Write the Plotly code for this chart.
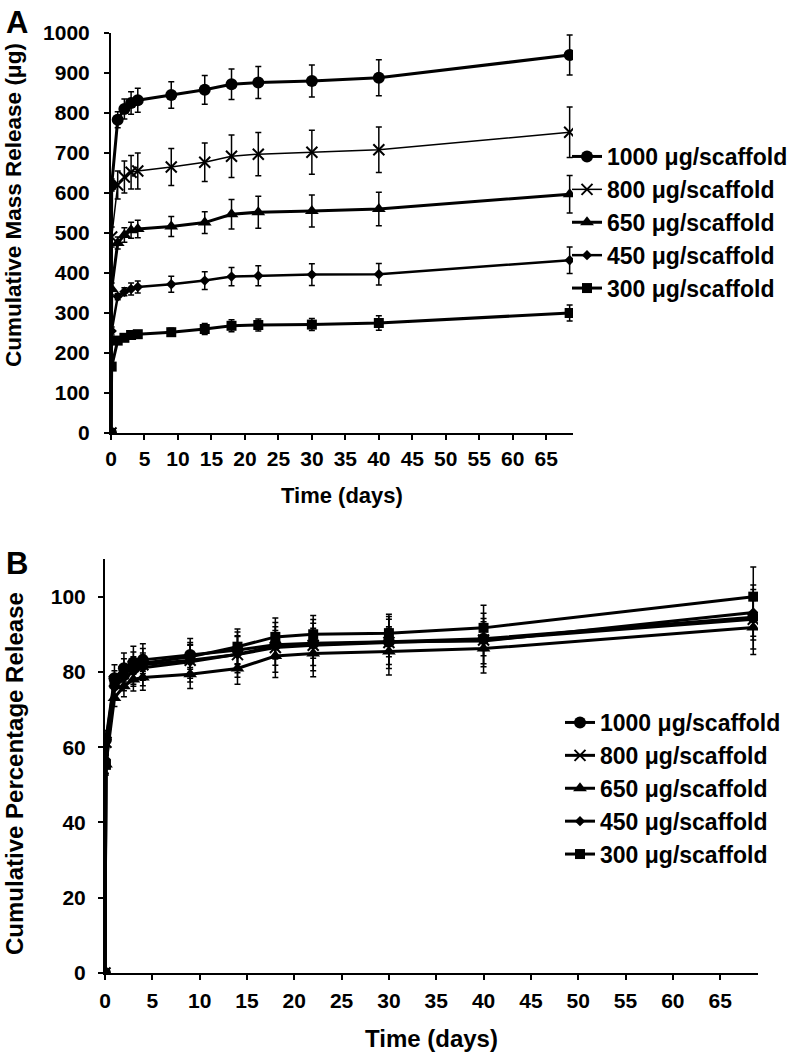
import plotly.graph_objects as go

# ---------------- data ----------------
days = [0, 0.1, 1, 2, 3, 4, 9, 14, 18, 22, 30, 40, 68.5]
series_names = ["1000 μg/scaffold", "800 μg/scaffold", "650 μg/scaffold",
                "450 μg/scaffold", "300 μg/scaffold"]

# Panel A: cumulative mass release (μg)
mass_1000 = [0, 620, 783, 810, 825, 832, 845, 858, 872, 876, 880, 888, 945]
mass_800 = [0, 490, 620, 640, 652, 655, 665, 677, 692, 697, 702, 708, 752]
mass_650 = [0, 360, 475, 495, 507, 510, 516, 526, 547, 552, 555, 560, 597]
mass_450 = [0, 255, 341, 353, 360, 365, 372, 381, 391, 393, 396, 397, 432]
mass_300 = [0, 166, 231, 238, 245, 247, 252, 260, 268, 270, 271, 275, 300]

err_mass_1000 = [0, 15, 20, 25, 28, 30, 33, 36, 38, 40, 40, 45, 50]
err_mass_800 = [0, 25, 35, 40, 42, 45, 46, 48, 53, 54, 55, 57, 63]
err_mass_650 = [0, 15, 15, 18, 20, 22, 25, 27, 37, 40, 40, 42, 47]
err_mass_450 = [0, 10, 8, 10, 15, 15, 20, 22, 23, 25, 27, 27, 33]
err_mass_300 = [0, 8, 5, 6, 7, 8, 10, 14, 15, 15, 15, 18, 20]

# Panel B: cumulative percentage release (%)
pct_1000 = [0, 62.0, 78.3, 81.0, 82.5, 83.2, 84.5, 85.8, 87.2, 87.6, 88.0, 88.8, 94.5]
pct_800 = [0, 61.3, 77.5, 80.0, 81.5, 81.9, 83.1, 84.6, 86.5, 87.1, 87.8, 88.5, 94.0]
pct_650 = [0, 55.4, 73.1, 76.2, 78.0, 78.5, 79.4, 80.9, 84.2, 84.9, 85.4, 86.2, 91.8]
pct_450 = [0, 56.7, 75.8, 78.4, 80.0, 81.1, 82.7, 84.7, 86.9, 87.3, 88.0, 88.2, 95.8]
pct_300 = [0, 55.3, 77.0, 79.3, 81.7, 82.3, 84.0, 86.7, 89.3, 90.0, 90.3, 91.7, 100.0]

err_pct_1000 = [0, 1.5, 2.0, 2.5, 2.8, 3.0, 3.3, 3.6, 3.8, 4.0, 4.0, 4.5, 5.0]
err_pct_800 = [0, 3.1, 4.4, 5.0, 5.3, 5.6, 5.8, 6.0, 6.6, 6.8, 6.9, 7.1, 7.9]
err_pct_650 = [0, 2.3, 2.3, 2.8, 3.1, 3.4, 3.8, 4.2, 5.7, 6.2, 6.2, 6.5, 7.2]
err_pct_450 = [0, 2.2, 1.8, 2.2, 3.3, 3.3, 4.4, 4.9, 5.1, 5.6, 6.0, 6.0, 7.3]
err_pct_300 = [0, 2.7, 1.7, 2.0, 2.3, 2.7, 3.3, 4.7, 5.0, 5.0, 5.0, 6.0, 7.9]

x_ticks = list(range(0, 70, 5))
yA_ticks = list(range(0, 1001, 100))
yB_ticks = list(range(0, 101, 20))

# ---------------- styles ----------------
FONT = "Liberation Sans, Arial, Helvetica, sans-serif"
symbols = ["circle", "x-thin", "triangle-up", "diamond", "square"]
msizes = [12, 11, 12, 8, 10]
lwidths = [3, 1.5, 3, 2.5, 3]

massA = [mass_1000, mass_800, mass_650, mass_450, mass_300]
errA = [err_mass_1000, err_mass_800, err_mass_650, err_mass_450, err_mass_300]
pctB = [pct_1000, pct_800, pct_650, pct_450, pct_300]
errB = [err_pct_1000, err_pct_800, err_pct_650, err_pct_450, err_pct_300]

fig = go.Figure()

def marker(i):
    m = dict(symbol=symbols[i], size=msizes[i], color="black")
    if symbols[i] == "x-thin":
        m["line"] = dict(width=2, color="black")
    return m

for i, name in enumerate(series_names):
    fig.add_trace(go.Scatter(
        x=days, y=massA[i], name=name, mode="lines+markers",
        line=dict(color="black", width=lwidths[i]), marker=marker(i),
        error_y=dict(type="data", array=errA[i], color="black", thickness=1.5, width=3),
        xaxis="x", yaxis="y", legend="legend", legendgroup="a" + str(i)))

for i, name in enumerate(series_names):
    fig.add_trace(go.Scatter(
        x=days, y=pctB[i], name=name, mode="lines+markers",
        line=dict(color="black", width=3), marker=marker(i),
        error_y=dict(type="data", array=errB[i], color="black", thickness=1.5, width=3),
        xaxis="x2", yaxis="y2", legend="legend2", legendgroup="b" + str(i)))

W, H = 792, 1054
tickfont = dict(family=FONT, size=21, color="black", weight="bold")
axis_common = dict(showline=True, linecolor="black", linewidth=2, ticks="outside",
                   tickcolor="black", tickwidth=2, ticklen=5, showgrid=False,
                   zeroline=False, automargin=False, tickfont=tickfont)
legfont = dict(family=FONT, size=23, color="black", weight="bold")

fig.update_layout(
    width=W, height=H, margin=dict(l=0, r=0, t=0, b=0, pad=0, autoexpand=False),
    paper_bgcolor="white", plot_bgcolor="white",
    font=dict(family=FONT, color="black"),
    xaxis=dict(domain=[111 / W, 573 / W], range=[0, 69], tickvals=x_ticks,
               anchor="y", ticklabelstandoff=1, **axis_common),
    yaxis=dict(domain=[1 - 433 / H, 1 - 33 / H], range=[0, 1000], tickvals=yA_ticks,
               anchor="x", ticklabelstandoff=10, **axis_common),
    xaxis2=dict(domain=[105 / W, 758 / W], range=[0, 69], tickvals=x_ticks,
                anchor="y2", ticklabelstandoff=3, **axis_common),
    yaxis2=dict(domain=[1 - 973 / H, 1 - 559 / H], range=[0, 110], tickvals=yB_ticks,
                anchor="x2", ticklabelstandoff=8, **axis_common),
    legend=dict(x=567 / W, y=1 - 135 / H, xanchor="left", yanchor="top",
                font=legfont, bgcolor="rgba(0,0,0,0)", itemwidth=30,
                tracegroupgap=0, traceorder="grouped"),
    legend2=dict(x=560 / W, y=1 - 701 / H, xanchor="left", yanchor="top",
                 font=legfont, bgcolor="rgba(0,0,0,0)", itemwidth=30,
                 tracegroupgap=0, traceorder="grouped"),
    showlegend=True,
)

def ann(text, x, y, size, angle=0):
    fig.add_annotation(text=text, x=x / W, y=1 - y / H, xref="paper", yref="paper",
                       showarrow=False, textangle=angle, xanchor="center", yanchor="middle",
                       font=dict(family=FONT, size=size, color="black", weight="bold"))

ann("A", 17, 22, 31)
ann("B", 17, 563, 31)
ann("Cumulative Mass Release (μg)", 14, 205, 22.5, -90)
ann("Cumulative Percentage Release", 14, 774, 24, -90)
ann("Time (days)", 342, 495, 22)
ann("Time (days)", 432, 1038, 24)

fig.write_html("out.html", config={"displayModeBar": False},
               post_script="document.body.style.margin='0px';")
